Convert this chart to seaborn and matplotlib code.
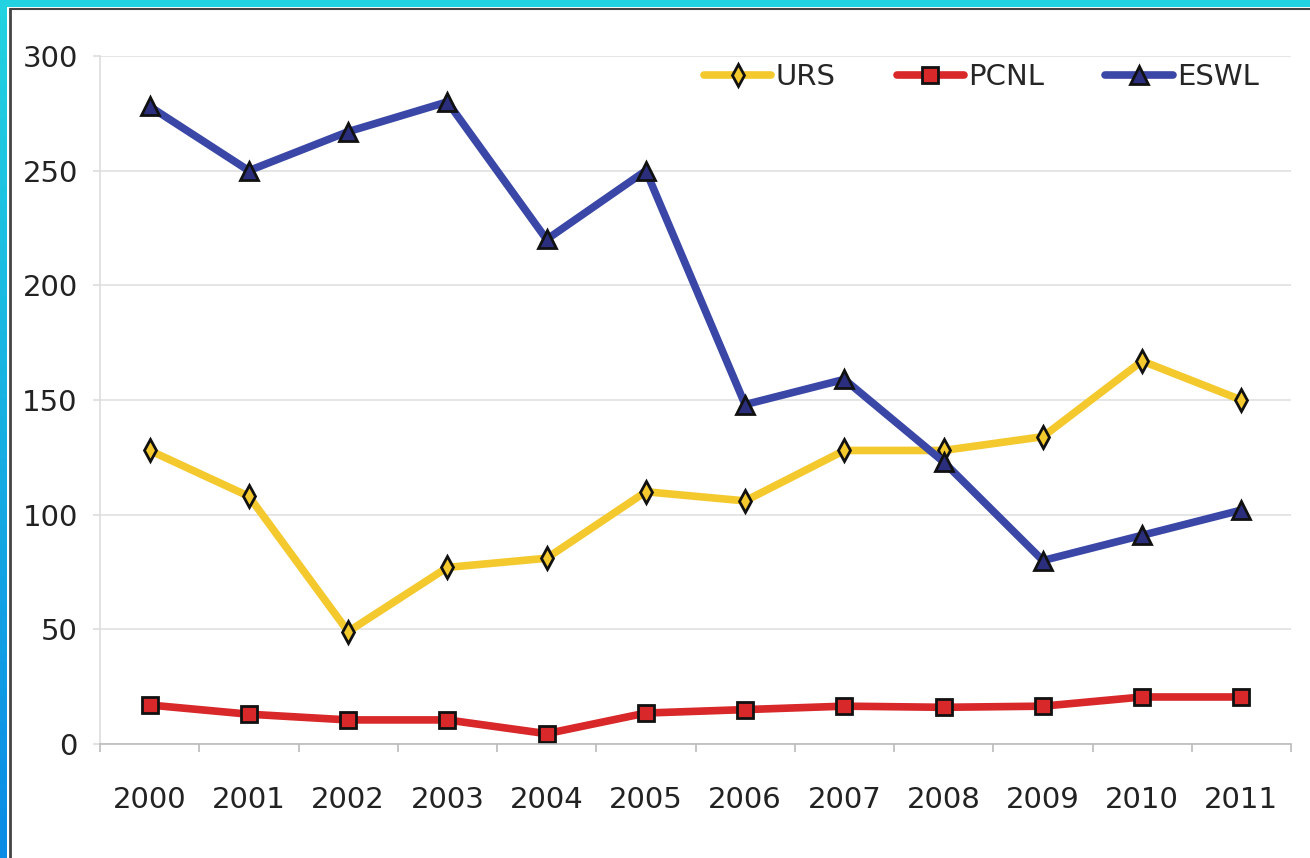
import matplotlib
matplotlib.use("Agg")
import matplotlib.pyplot as plt
import seaborn as sns
import pandas as pd
import numpy as np
from matplotlib.patches import Rectangle
from matplotlib.lines import Line2D
from matplotlib import font_manager

annees = [str(a) for a in range(2000, 2012)]
urs = [128, 108, 49, 77, 81, 110, 106, 128, 128, 134, 167, 150]
pcnl = [17, 13, 10.5, 10.5, 4.5, 13.5, 15, 16.5, 16, 16.5, 20.5, 20.5]
eswl = [278, 250, 267, 280, 220, 250, 148, 159, 123, 80, 91, 102]

series = ["URS", "PCNL", "ESWL"]
couleurs = {"URS": "#F4C92E", "PCNL": "#D8282A", "ESWL": "#3A47A6"}
marqueurs = {"URS": "d", "PCNL": "s", "ESWL": "^"}
remplissage = {"URS": "#F4C92E", "PCNL": "#D8282A", "ESWL": "#2A2E7C"}
tailles = {"URS": 11, "PCNL": 12, "ESWL": 13}

df = pd.DataFrame({"annee": annees, "URS": urs, "PCNL": pcnl, "ESWL": eswl})
df_long = df.melt(id_vars="annee", var_name="serie", value_name="valeur")

sns.set_theme(style="white")
installees = {f.name for f in font_manager.fontManager.ttflist}
etroites = [f for f in ["Liberation Sans Narrow", "DejaVu Sans Condensed"] if f in installees]
plt.rcParams["font.family"] = etroites + ["DejaVu Sans"]
taille_txt = 25 if etroites else 21

W, H = 1310, 858
fig = plt.figure(figsize=(W / 100, H / 100), dpi=100)
fig.patch.set_facecolor("white")

# cadre : bande cyan en haut, dégradé à gauche, filet gris
fig.add_artist(Rectangle((0, 1 - 7 / H), 1, 7 / H, transform=fig.transFigure,
                         facecolor="#22D2E0", edgecolor="none"))
grad = np.linspace(0, 1, 100).reshape(-1, 1)
ax_g = fig.add_axes([0, 0, 7 / W, 1 - 7 / H])
ax_g.imshow(grad, aspect="auto", cmap=matplotlib.colors.LinearSegmentedColormap.from_list(
    "bord", ["#22D2E0", "#0A8CE6"]), extent=[0, 1, 0, 1], origin="upper")
ax_g.axis("off")
fig.add_artist(Line2D([9.5 / W, 9.5 / W], [0, 1 - 8.5 / H], transform=fig.transFigure,
                      color="#444444", lw=2))
fig.add_artist(Line2D([9.5 / W, 1], [1 - 8.5 / H, 1 - 8.5 / H], transform=fig.transFigure,
                      color="#444444", lw=1.5))

x0, x1 = 100, 1291
y0, y1 = 744, 56
ax = fig.add_axes([x0 / W, 1 - y0 / H, (x1 - x0) / W, (y0 - y1) / H])

for s in series:
    d = df_long[df_long["serie"] == s]
    sns.lineplot(data=d, x="annee", y="valeur", ax=ax, color=couleurs[s], lw=5.5,
                 marker=marqueurs[s], markersize=tailles[s], markerfacecolor=remplissage[s],
                 markeredgecolor="#111111", markeredgewidth=2, label=s, sort=False)

ax.set_xlim(-0.5, len(annees) - 0.5)
ax.set_ylim(0, 300)
ax.set_yticks(range(0, 301, 50))
ax.yaxis.grid(True, color="#E0E0E0", lw=1.2)
ax.set_xlabel("")
ax.set_ylabel("")
for sp in ["top", "right"]:
    ax.spines[sp].set_visible(False)
ax.spines["left"].set_color("#DDDDDD")
ax.spines["bottom"].set_color("#BBBBBB")
ax.spines["left"].set_linewidth(1.2)
ax.spines["bottom"].set_linewidth(1.2)

ax.set_xticks(np.arange(len(annees)))
ax.set_xticklabels(annees)
ax.set_xticks(np.arange(len(annees) + 1) - 0.5, minor=True)
ax.tick_params(axis="x", which="major", bottom=False, length=0, pad=30,
               labelsize=taille_txt, labelcolor="#222222")
ax.tick_params(axis="x", which="minor", bottom=True, length=6, color="#BBBBBB", width=1.2,
               direction="out")
ax.tick_params(axis="y", left=True, length=5, color="#DDDDDD", width=1.2, pad=11,
               labelsize=taille_txt, labelcolor="#222222")

leg = ax.legend(loc="upper right", ncol=3, frameon=False, fontsize=taille_txt,
                handlelength=2.3, columnspacing=2.1, handletextpad=0.15,
                bbox_to_anchor=(0.995, 1.028))

plt.savefig("out.png", dpi=100)
plt.close()
